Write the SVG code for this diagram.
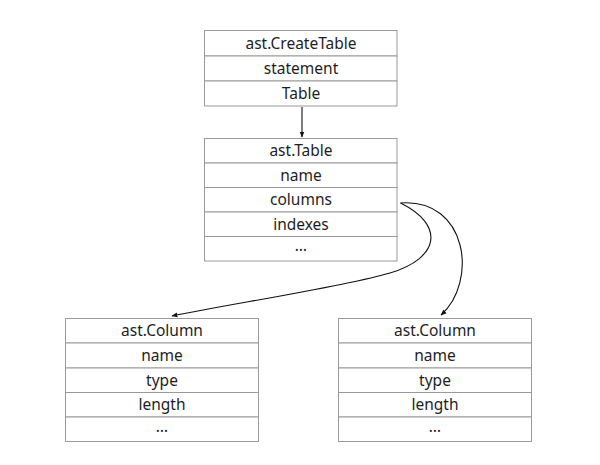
<svg xmlns="http://www.w3.org/2000/svg" width="600" height="465" viewBox="0 0 600 465">
<style>
.cell{fill:#fff;stroke:#9a9a9a;stroke-width:1}
.t{font-family:"Noto Sans","Liberation Sans",Arial,sans-serif;font-size:15.5px;fill:#1e1e1e;text-anchor:middle}
.c{fill:none;stroke:#111;stroke-width:1.1}
</style>
<defs>
<marker id="ah" viewBox="0 0 10 10" refX="9" refY="5" markerWidth="6" markerHeight="6" orient="auto" markerUnits="userSpaceOnUse">
<path d="M0,1 L10,5 L0,9 z" fill="#111"/>
</marker>
</defs>
<rect width="600" height="465" fill="#fff"/>
<g id="createtable">
<rect class="cell" x="204.5" y="30.5" width="192.5" height="25.5"/>
<rect class="cell" x="204.5" y="56" width="192.5" height="25"/>
<rect class="cell" x="204.5" y="81" width="192.5" height="25"/>
<text class="t" x="301" y="48.5">ast.CreateTable</text>
<text class="t" x="301" y="73.5">statement</text>
<text class="t" x="301" y="98.5">Table</text>
</g>
<g id="table">
<rect class="cell" x="204.5" y="138.5" width="192.5" height="24.5"/>
<rect class="cell" x="204.5" y="163" width="192.5" height="24.5"/>
<rect class="cell" x="204.5" y="187.5" width="192.5" height="24.5"/>
<rect class="cell" x="204.5" y="212" width="192.5" height="24.5"/>
<rect class="cell" x="204.5" y="236.5" width="192.5" height="24.5"/>
<text class="t" x="301" y="156">ast.Table</text>
<text class="t" x="301" y="180.5">name</text>
<text class="t" x="301" y="205">columns</text>
<text class="t" x="301" y="229.5">indexes</text>
<text class="t" x="301" y="251">…</text>
</g>
<g id="column1">
<rect class="cell" x="65.5" y="318.5" width="193" height="24.5"/>
<rect class="cell" x="65.5" y="343" width="193" height="25"/>
<rect class="cell" x="65.5" y="368" width="193" height="24.5"/>
<rect class="cell" x="65.5" y="392.5" width="193" height="24.5"/>
<rect class="cell" x="65.5" y="417" width="193" height="24.5"/>
<text class="t" x="162" y="336">ast.Column</text>
<text class="t" x="162" y="360.5">name</text>
<text class="t" x="162" y="385.5">type</text>
<text class="t" x="162" y="410">length</text>
<text class="t" x="162" y="432">…</text>
</g>
<g id="column2">
<rect class="cell" x="338.5" y="318.5" width="193" height="24.5"/>
<rect class="cell" x="338.5" y="343" width="193" height="25"/>
<rect class="cell" x="338.5" y="368" width="193" height="24.5"/>
<rect class="cell" x="338.5" y="392.5" width="193" height="24.5"/>
<rect class="cell" x="338.5" y="417" width="193" height="24.5"/>
<text class="t" x="435" y="336">ast.Column</text>
<text class="t" x="435" y="360.5">name</text>
<text class="t" x="435" y="385.5">type</text>
<text class="t" x="435" y="410">length</text>
<text class="t" x="435" y="432">…</text>
</g>
<g id="connectors">
<path class="c" d="M302,107 L302,137" marker-end="url(#ah)"/>
<path class="c" d="M400.5,203 C445,225 440,258 390,273 C345,286.5 230,304 172,316" marker-end="url(#ah)"/>
<path class="c" d="M400.5,203 C468,198 478,282 441,315" marker-end="url(#ah)"/>
</g>
</svg>
